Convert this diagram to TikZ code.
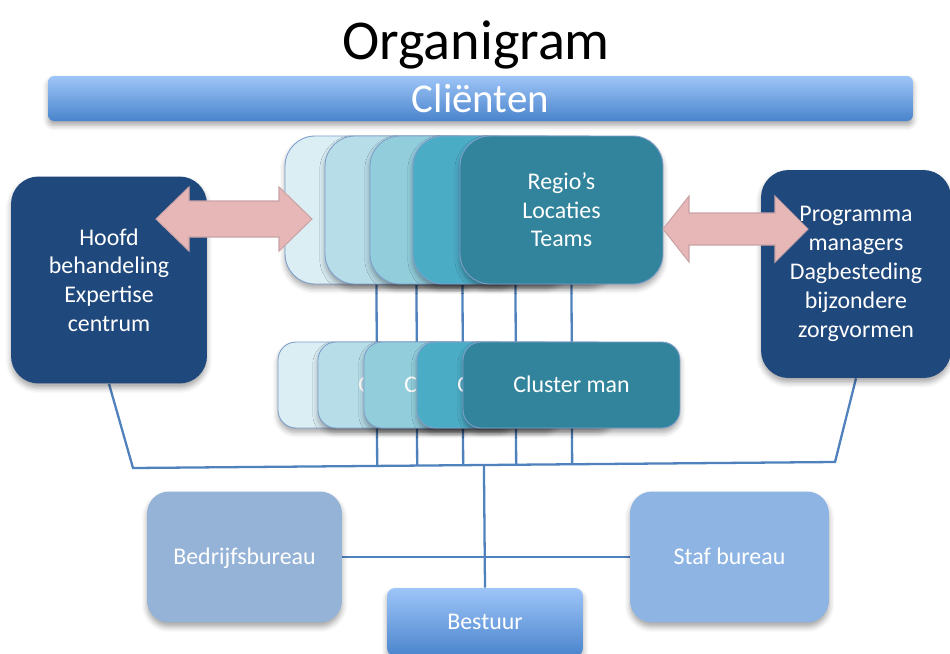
\documentclass[tikz,border=0pt]{standalone}
\usepackage{fontspec}
\setmainfont{Carlito}
\usetikzlibrary{calc,shadows.blur}

\definecolor{navy}{HTML}{1F487C}
\definecolor{lineblue}{HTML}{4F81BD}
\definecolor{edgeblue}{HTML}{7F9FCB}
\definecolor{tealA}{HTML}{DBEEF4}
\definecolor{tealB}{HTML}{B7DDE8}
\definecolor{tealC}{HTML}{92CDDC}
\definecolor{tealD}{HTML}{4BACC6}
\definecolor{tealE}{HTML}{31849B}
\definecolor{gradtop}{HTML}{9EC5F8}
\definecolor{gradbot}{HTML}{4A84CC}
\definecolor{bedrblue}{HTML}{95B3D7}
\definecolor{stafblue}{HTML}{8EB4E3}
\definecolor{pinkfill}{HTML}{E6B7B6}
\definecolor{pinkedge}{HTML}{C9A3A6}

\pgfdeclarelayer{bg}
\pgfsetlayers{bg,main}

\tikzset{
  wtext/.style={text=white, font=\fontsize{13.6pt}{16.3pt}\selectfont, align=center},
  conn/.style={draw=lineblue, line width=1.3pt},
  softshadow/.style={blur shadow={shadow xshift=0pt, shadow yshift=-2.5pt,
      shadow blur radius=3pt, shadow opacity=35}},
  stackbox/.style={draw=edgeblue, line width=0.5pt, rounded corners=0.6cm,
      minimum width=4.06cm, minimum height=2.96cm, softshadow, wtext},
  clusterbox/.style={draw=edgeblue, line width=0.5pt, rounded corners=0.36cm,
      minimum width=3.94cm, minimum height=1.72cm, softshadow, wtext,
      text height=2.0ex, text depth=0.3ex},
  cfrag/.style={wtext, inner sep=0pt, anchor=west, text height=2.0ex, text depth=0.3ex},
  navybox/.style={fill=navy, rounded corners=0.55cm, softshadow, wtext},
  officebox/.style={rounded corners=0.44cm, minimum height=2.62cm, softshadow, wtext,
      text height=2.0ex, text depth=0.3ex},
  gradbox/.style={top color=gradtop, bottom color=gradbot, softshadow, text=white},
  pinkarrow/.style={fill=pinkfill, draw=pinkedge, line width=0.6pt},
}

\begin{document}
\begin{tikzpicture}[x=0.02cm, y=-0.02cm]
  \useasboundingbox (0,0) rectangle (950,653);

  % title and client bar
  \node[anchor=base, font=\fontsize{32pt}{38pt}\selectfont] (title) at (476,59) {Organigram};
  \node[gradbox, rounded corners=0.12cm, minimum width=17.3cm, minimum height=0.9cm,
        font=\fontsize{23.3pt}{28pt}\selectfont] (clients) at (480.5,98.5) {Cliënten};

  % side boxes
  \node[navybox, minimum width=3.92cm, minimum height=4.14cm] (hoofd) at (109,280)
    {Hoofd\\behandeling\\Expertise\\centrum};
  \node[navybox, minimum width=3.8cm, minimum height=4.16cm,
        font=\fontsize{13.6pt}{16.5pt}\selectfont] (prog) at (856,274)
    {Programma\\managers\\Dagbesteding\\bijzondere\\zorgvormen};

  % stacked region boxes
  \node[stackbox, fill=tealA] (reg1) at (386.5,210) {};
  \node[stackbox, fill=tealB] (reg2) at (426.5,210) {};
  \node[stackbox, fill=tealC] (reg3) at (471.5,210) {};
  \node[stackbox, fill=tealD] (reg4) at (514.5,210) {};
  \node[stackbox, fill=tealE] (reg5) at (561.5,210) {Regio’s\\Locaties\\Teams};

  % stacked cluster boxes; only the first letter of the hidden labels shows
  \node[clusterbox, fill=tealA] (cl1) at (376.5,385) {};
  \node[clusterbox, fill=tealB] (cl2) at (416.5,385) {};
  \node[cfrag] (frag2) at (358,385) {C};
  \node[clusterbox, fill=tealC] (cl3) at (462.5,385) {};
  \node[cfrag] (frag3) at (404,385) {C};
  \node[clusterbox, fill=tealD] (cl4) at (515.5,385) {};
  \node[cfrag] (frag4) at (457,385) {C};
  \node[clusterbox, fill=tealE, minimum width=4.34cm] (cl5) at (571.5,385) {Cluster man};

  % support offices and board
  \node[officebox, fill=bedrblue, minimum width=3.9cm] (bedr) at (244.5,557) {Bedrijfsbureau};
  \node[officebox, fill=stafblue, minimum width=3.98cm] (staf) at (729.5,557) {Staf bureau};
  \node[gradbox, rounded corners=0.16cm, minimum width=3.92cm, minimum height=1.36cm,
        wtext] (bestuur) at (485,622) {Bestuur};

  % bus line ends
  \coordinate (busL) at (133,468);
  \coordinate (busR) at (835,462);

  % connectors behind the boxes
  \begin{pgfonlayer}{bg}
    \draw[conn] (hoofd.south) -- (busL) -- (busR) -- (prog.south);
    \foreach \c in {cl1,cl2,cl3,cl4,cl5} {
      \draw[conn] (\c.center |- reg1.south) -- ($(busL)!(\c.center)!(busR)$);
    }
    \draw[conn] (bestuur.north) -- ($(busL)!(bestuur.north)!(busR)$);
    \draw[conn] (bedr.east) -- (staf.west);
  \end{pgfonlayer}

  % two-way arrows between the side boxes and the regions
  \filldraw[pinkarrow] (156,219) -- (189,187) -- (189,201) -- (279,201) -- (279,187)
    -- (312,219) -- (279,251) -- (279,237) -- (189,237) -- (189,251) -- cycle;
  \filldraw[pinkarrow] (663,229) -- (689,196) -- (689,213) -- (775,213) -- (775,196)
    -- (808,229) -- (775,262) -- (775,245) -- (689,245) -- (689,262) -- cycle;
\end{tikzpicture}
\end{document}
